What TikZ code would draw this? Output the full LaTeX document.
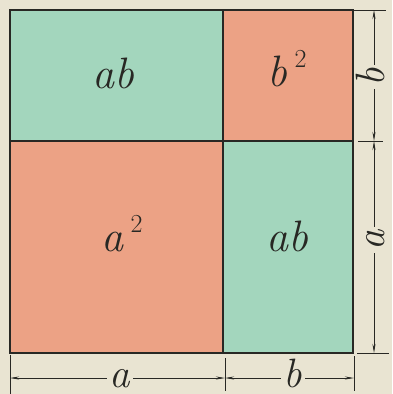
\documentclass[tikz,border=0pt]{standalone}
\usetikzlibrary{arrows.meta}
\definecolor{paper}{RGB}{233,228,210}
\definecolor{tgreen}{RGB}{163,214,189}
\definecolor{tsalmon}{RGB}{236,162,133}
\definecolor{ink}{RGB}{40,40,36}
\newcommand{\sqr}{\,\raisebox{0.42em}{\fontsize{26}{26}\selectfont\upshape 2}}
\begin{document}
\begin{tikzpicture}[x=1pt,y=-1pt,
  border/.style={draw=ink,line width=1.6pt},
  extline/.style={draw=ink,line width=0.7pt},
  dimline/.style={draw=ink,line width=0.7pt,{Stealth[length=9pt,width=3pt]}-{Stealth[length=9pt,width=3pt]}},
  area/.style={font=\fontsize{44}{44}\selectfont\itshape,text=ink,anchor=base,inner sep=0pt},
  dimlabel/.style={font=\fontsize{41}{41}\selectfont\itshape,text=ink,anchor=base,fill=paper,inner xsep=3pt,inner ysep=0pt}]
\fill[paper] (0,0) rectangle (392,394);
\useasboundingbox (0,0) rectangle (392,394);
% corners
\coordinate (TL) at (10,10);
\coordinate (TM) at (223,10);
\coordinate (TR) at (353,10);
\coordinate (ML) at (10,141);
\coordinate (MM) at (223,141);
\coordinate (MR) at (353,141);
\coordinate (BL) at (10,353);
\coordinate (BM) at (223,353);
\coordinate (BR) at (353,353);
% fills
\fill[tgreen] (TL) rectangle (MM);
\fill[tsalmon] (TM) rectangle (MR);
\fill[tsalmon] (ML) rectangle (BM);
\fill[tgreen] (MM) rectangle (BR);
% borders
\draw[border] (TL) rectangle (BR);
\draw[border] (TM) -- (BM);
\draw[border] (ML) -- (MR);
% area labels
\node[area] (lab1) at (113,88) {ab};
\node[area] (lab2) at (287,86) {b\sqr};
\node[area] (lab3) at (122,251) {a\sqr};
\node[area] (lab4) at (287,251) {ab};
% extension lines right
\coordinate (r1b) at (386,10);
\coordinate (r2a) at (358,141);  \coordinate (r2b) at (383,141);
\coordinate (r3a) at (357,353);  \coordinate (r3b) at (389,353);
\draw[extline] (TR) -- (r1b);
\draw[extline] (r2a) -- (r2b);
\draw[extline] (r3a) -- (r3b);
% extension lines bottom
\coordinate (b1a) at (10,355);  \coordinate (b1b) at (10,394);
\coordinate (b2a) at (225,358); \coordinate (b2b) at (225,391);
\coordinate (b3a) at (354,356); \coordinate (b3b) at (354,391);
\draw[extline] (b1a) -- (b1b);
\draw[extline] (b2a) -- (b2b);
\draw[extline] (b3a) -- (b3b);
% dimension lines right
\coordinate (d1) at (374,10);
\coordinate (d2) at (374,141);
\coordinate (d3) at (374,353);
\draw[dimline] (d1) -- (d2);
\draw[dimline] (d2) -- (d3);
\node[dimlabel,rotate=90] (rb) at (384,77) {b};
\node[dimlabel,rotate=90] (ra) at (384,240) {a};
% dimension lines bottom
\coordinate (e1) at (10,378);
\coordinate (e2) at (225,378);
\coordinate (e3) at (354,378);
\draw[dimline] (e1) -- (e2);
\draw[dimline] (e2) -- (e3);
\node[dimlabel] (ba) at (120,387) {a};
\node[dimlabel] (bb) at (293,387) {b};
\end{tikzpicture}
\end{document}
